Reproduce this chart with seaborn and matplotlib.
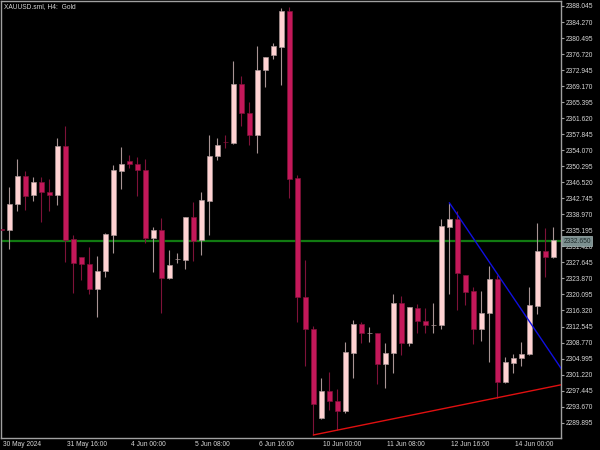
import matplotlib
matplotlib.use('Agg')
import numpy as np
import pandas as pd
import matplotlib.pyplot as plt
import matplotlib.transforms as mtransforms
import seaborn as sns

# XAUUSD H4 candles
opens = [2335.51, 2335.28, 2341.40, 2348.00, 2343.59, 2346.52, 2344.23, 2343.45, 2355.00, 2333.09,
         2328.92, 2327.27, 2321.38, 2325.69, 2334.03, 2349.25, 2351.53, 2350.83, 2349.34, 2333.46,
         2335.28, 2324.04, 2328.36, 2328.28, 2338.27, 2332.92, 2342.18, 2352.71, 2356.00, 2355.84,
         2369.60, 2362.91, 2357.58, 2372.90, 2376.43, 2378.46, 2386.80, 2347.46, 2319.42, 2311.89,
         2290.92, 2297.35, 2294.99, 2292.71, 2306.40, 2313.13, 2310.90, 2311.09, 2303.78, 2306.23,
         2318.15, 2308.59, 2316.83, 2313.91, 2312.90, 2312.90, 2336.06, 2337.80, 2324.68, 2320.91,
         2311.89, 2315.80, 2323.66, 2299.40, 2303.87, 2305.05, 2306.00, 2317.44, 2330.40, 2328.99]
highs = [2336.22, 2345.48, 2352.00, 2349.18, 2347.76, 2347.83, 2347.29, 2356.95, 2359.78, 2334.03,
         2328.92, 2331.27, 2329.15, 2334.57, 2350.52, 2354.83, 2352.95, 2352.48, 2351.93, 2336.06,
         2338.03, 2330.57, 2329.79, 2338.27, 2341.95, 2344.23, 2357.66, 2357.02, 2357.66, 2375.09,
         2371.56, 2365.43, 2378.62, 2376.10, 2379.40, 2387.57, 2387.88, 2348.23, 2328.21, 2312.66,
         2300.34, 2301.90, 2297.75, 2308.97, 2314.08, 2313.68, 2312.36, 2311.09, 2308.59, 2320.13,
         2319.80, 2317.21, 2317.85, 2316.83, 2318.01, 2337.87, 2341.57, 2339.75, 2324.68, 2321.78,
         2320.98, 2326.80, 2324.68, 2305.29, 2306.00, 2308.97, 2321.92, 2336.86, 2335.68, 2336.06]
lows = [2334.57, 2330.73, 2339.83, 2339.99, 2342.18, 2337.16, 2339.83, 2341.10, 2327.74, 2320.51,
        2323.50, 2320.13, 2314.85, 2324.28, 2329.93, 2344.87, 2349.81, 2343.22, 2332.29, 2325.46,
        2315.80, 2323.81, 2327.57, 2326.02, 2328.05, 2329.39, 2334.10, 2351.77, 2354.67, 2355.54,
        2359.78, 2355.30, 2353.49, 2369.04, 2375.56, 2369.44, 2342.75, 2313.68, 2303.24, 2286.99,
        2290.68, 2292.88, 2288.16, 2292.10, 2300.48, 2308.59, 2308.97, 2298.93, 2297.99, 2301.66,
        2305.83, 2308.02, 2310.94, 2310.94, 2310.94, 2311.89, 2320.20, 2316.43, 2317.61, 2308.35,
        2309.13, 2304.11, 2295.77, 2299.30, 2301.66, 2303.24, 2305.90, 2315.42, 2324.28, 2328.61]
closes = [2335.28, 2341.40, 2348.00, 2343.29, 2346.52, 2344.23, 2343.45, 2355.00, 2332.92, 2327.43,
          2327.20, 2321.38, 2325.62, 2334.27, 2349.34, 2350.76, 2350.76, 2349.34, 2333.46, 2335.28,
          2324.04, 2327.10, 2328.40, 2338.27, 2332.69, 2342.35, 2352.71, 2355.30, 2355.90, 2369.60,
          2362.91, 2357.66, 2372.97, 2375.96, 2378.55, 2386.80, 2347.29, 2319.42, 2311.89, 2294.22,
          2297.35, 2294.99, 2292.71, 2306.47, 2313.13, 2311.09, 2311.00, 2303.78, 2306.37, 2318.01,
          2308.59, 2317.07, 2313.91, 2312.83, 2313.00, 2336.22, 2337.80, 2325.08, 2320.74, 2311.89,
          2315.80, 2323.66, 2299.40, 2304.11, 2305.05, 2306.07, 2317.61, 2330.40, 2328.99, 2332.92]

time_labels = ['30 May 2024', '31 May 16:00', '4 Jun 00:00', '5 Jun 08:00', '6 Jun 16:00',
               '10 Jun 00:00', '11 Jun 08:00', '12 Jun 16:00', '14 Jun 00:00']
price_ticks = [2388.045 - 3.775 * k for k in range(27)]
bid_price = 2332.65

# trend lines (anchor bars / prices)
blue_x = [56, 70]
blue_y = [2341.70, 2302.60]
red_x = [39, 62]
red_y = [2286.99, 2295.77]

BULL = '#FFD2D2'
BULL_EDGE = '#A89494'
BEAR = '#C4185A'
BEAR_EDGE = '#7E1238'
TXT = '#D8D8D8'
GRID = '#A0A0A0'
FS = 4.8

sns.set_style('dark', {'axes.facecolor': 'black', 'figure.facecolor': 'black'})
plt.rcParams['font.family'] = ['Liberation Sans', 'DejaVu Sans']

df = pd.DataFrame({'open': opens, 'high': highs, 'low': lows, 'close': closes})
df['x'] = np.arange(len(df))
df['bull'] = df['close'] >= df['open']

fig = plt.figure(figsize=(6, 4.5), dpi=100)
fig.patch.set_facecolor('black')
ax = fig.add_axes([1.3 / 600, 12 / 450, 560 / 600, 437 / 450])
ax.set_facecolor('black')

for bull, fill, edge in [(True, BULL, BULL_EDGE), (False, BEAR, BEAR_EDGE)]:
    d = df[df['bull'] == bull]
    ax.vlines(d['x'], d['low'], d['high'], color=edge, lw=0.8, zorder=2)
    body = (d['close'] - d['open']).abs().clip(lower=0.05)
    ax.bar(d['x'], body, bottom=d[['open', 'close']].min(axis=1), width=0.7,
           color=fill, edgecolor=edge, linewidth=0.5, zorder=3)

# bid line
ax.axhline(bid_price, color='#117A11', lw=1.6, zorder=1)

# trend lines, extended to the right edge
bx = np.array([blue_x[0], 72])
by = np.polyval(np.polyfit(blue_x, blue_y, 1), bx)
rx = np.array([red_x[0], 72])
ry = np.polyval(np.polyfit(red_x, red_y, 1), rx)
sns.lineplot(x=bx, y=by, ax=ax, color='#1010E0', lw=1.0, zorder=4)
sns.lineplot(x=rx, y=ry, ax=ax, color='#E01010', lw=1.0, zorder=4)

ax.set_xlim(0, 70)
ax.set_ylim(2286.28, 2389.22)

for s in ax.spines.values():
    s.set_visible(True)
    s.set_color(GRID)
    s.set_linewidth(1)
ax.grid(False)

ax.yaxis.tick_right()
ax.set_yticks(price_ticks)
ax.set_yticklabels(['%.3f' % p for p in price_ticks])
ax.tick_params(axis='y', colors=GRID, labelcolor=TXT, labelsize=FS, length=2.2, width=0.8,
               direction='out', pad=1, right=True, left=False)

ax.set_xticks(np.arange(0, 65, 8))
ax.set_xticklabels(time_labels)
ax.tick_params(axis='x', colors=GRID, labelcolor=TXT, labelsize=FS, length=1.8, width=0.8,
               direction='out', pad=0.6)
offset = mtransforms.ScaledTranslation(1.5 / 100, 0, fig.dpi_scale_trans)
for lab in ax.get_xticklabels():
    lab.set_horizontalalignment('left')
    lab.set_transform(lab.get_transform() + offset)

ax.set_xlabel('')
ax.set_ylabel('')

# current price label on the scale
trans = mtransforms.blended_transform_factory(ax.transAxes, ax.transData)
ax.text(1.0 + 2.0 / 560, bid_price, '2332.650', transform=trans, ha='left', va='center',
        fontsize=FS, color='#1E2A2A', zorder=6, clip_on=False,
        bbox=dict(boxstyle='square,pad=0.2', facecolor='#7C9090', edgecolor='#A8B8B8', lw=0.5))

ax.text(3 / 560, 1 - 2 / 437, 'XAUUSD.sml, H4:  Gold', transform=ax.transAxes, ha='left',
        va='top', fontsize=FS, color=TXT)

fig.savefig('out.png', dpi=100, facecolor='black')
